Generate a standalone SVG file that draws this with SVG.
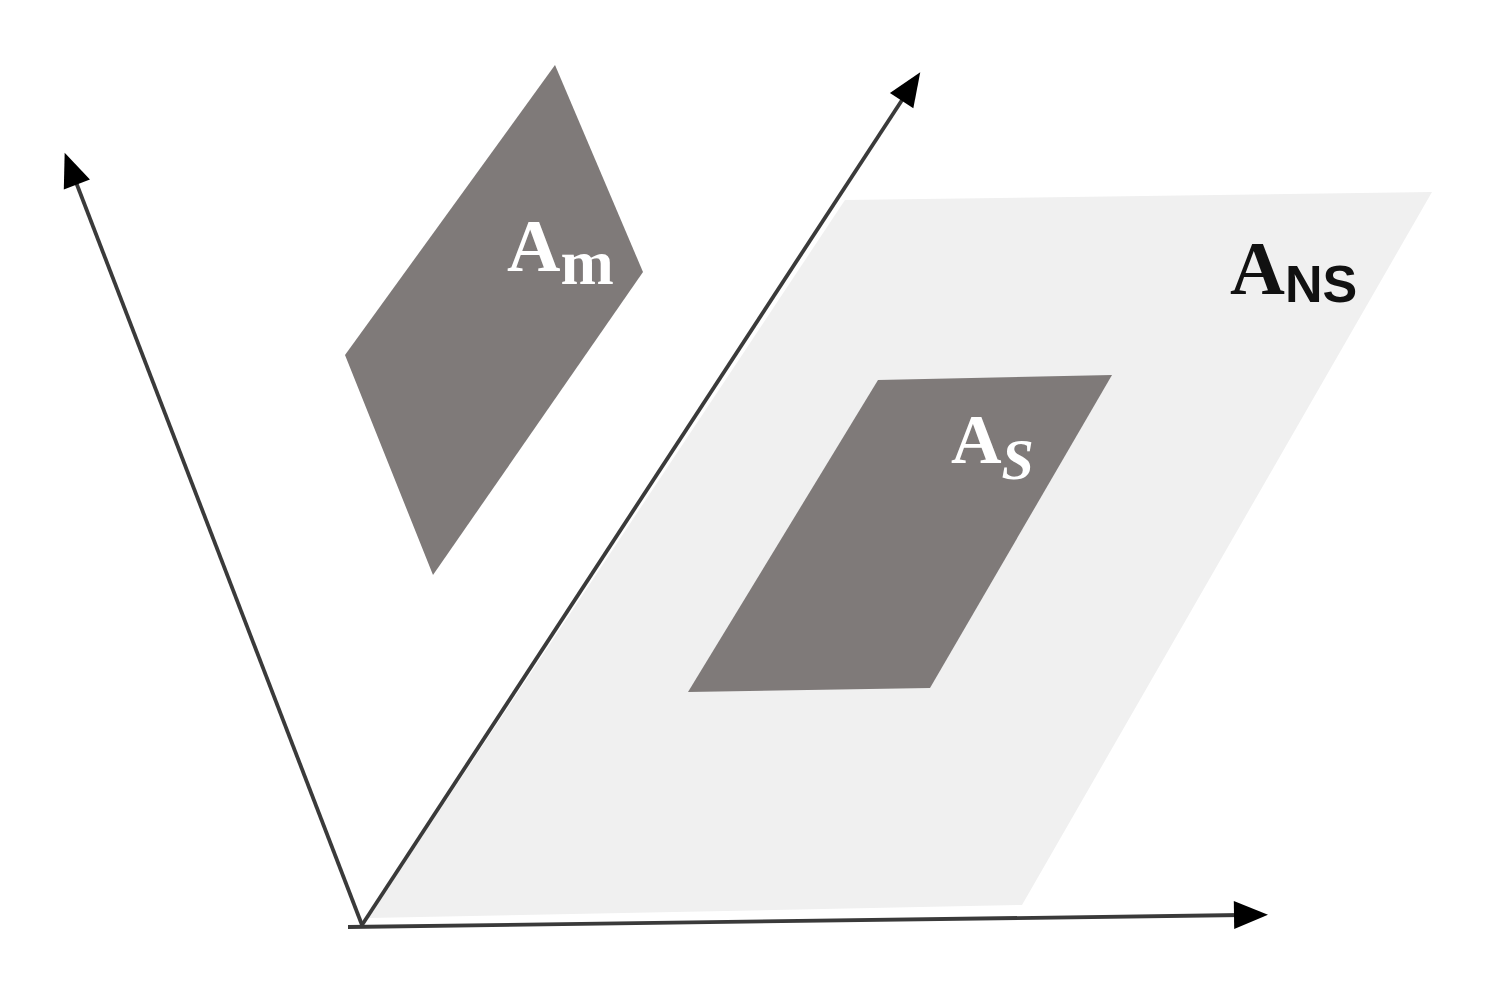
<svg xmlns="http://www.w3.org/2000/svg" width="1490" height="982" viewBox="0 0 1490 982">
<style>
.ax{stroke:#3a3a3a;stroke-width:3.8;fill:none;marker-end:url(#ah)}
.dark{fill:#7f7a79}
.light{fill:#f0f0f0}
.lbl{font-family:"Liberation Serif",serif;font-weight:bold}
</style>
<defs>
<marker id="ah" viewBox="0 0 10 10" refX="2" refY="5" markerWidth="10" markerHeight="10" markerUnits="userSpaceOnUse" orient="auto" overflow="visible">
<path d="M-6,-9 L28,5 L-6,19 Z" fill="#000"/>
</marker>
</defs>
<rect width="1490" height="982" fill="#fff"/>
<g id="ANS">
<polygon class="light" points="368,918 845,200 1432,192 1022,905"/>
<text class="lbl" x="1230" y="294" font-size="76" fill="#111">A<tspan font-size="52" font-family="Liberation Sans,sans-serif" dy="8">NS</tspan></text>
</g>
<g id="AS">
<polygon class="dark" points="878,380 1112,375 930,688 688,692"/>
<text class="lbl" x="951" y="463" font-size="70" fill="#fff">A<tspan font-size="58" font-style="italic" dy="16">S</tspan></text>
</g>
<g id="Am">
<polygon class="dark" points="555,65 643,272 433,575 345,355"/>
<text class="lbl" x="507" y="271" font-size="74" fill="#fff">A<tspan font-size="64" dy="13">m</tspan></text>
</g>
<g id="axes">
<line class="ax" x1="362" y1="925" x2="74" y2="177"/>
<line class="ax" x1="362" y1="925" x2="906" y2="94"/>
<line class="ax" x1="348" y1="927" x2="1242" y2="915"/>
</g>
</svg>
